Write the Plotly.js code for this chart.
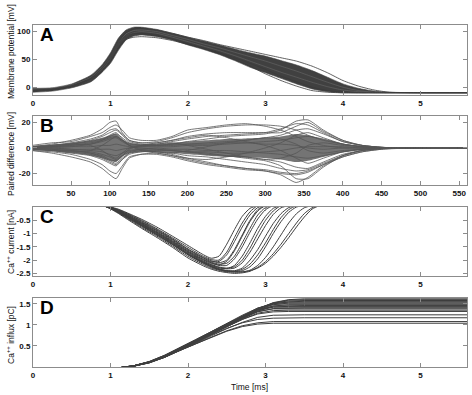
<!DOCTYPE html>
<html><head><meta charset="utf-8">
<script src="https://cdn.plot.ly/plotly-3.0.1.min.js"></script>
<style>html,body{margin:0;padding:0;background:#fff}#plot{width:472px;height:395px}</style>
</head><body><div id="plot"></div>
<script>
// ---------- Panel A: membrane potential (mV) vs time (ms) ----------
const tA = [0,0.25,0.5,0.75,0.9,1.0,1.1,1.2,1.3,1.4,1.6,1.8,2.0,2.2,2.4,2.6,2.8,3.0,3.2,3.4,3.6,3.8,4.0,4.2,4.4,4.6,5.0,5.6];
const aHi = [-2,-1,6,22,42,62,88,103,108,108,104,97,90,83,76,69,62,56,48,40,30,18,6,-2,-7,-9,-10,-10];
const aLo = [-9,-7,-1,10,28,43,66,85,92,94,91,85,76,68,59,48,36,26,16,6,-3,-8,-10,-10,-10,-10,-10,-10];
const aLines = [
  [-5,-3,3,17,36,55,80,98,105,106,103,97,90,84,77,71,65,59,53,47,38,26,12,2,-5,-9,-10,-10],
  [-6,-4,2,15,32,50,75,92,97,97,93,86,78,70,61,50,38,24,12,2,-6,-9,-10,-10,-10,-10,-10,-10],
  [-7,-5,1,14,30,47,70,86,90,91,89,84,77,70,62,53,43,32,20,10,0,-6,-9,-10,-10,-10,-10,-10]
];
const aInner = [
  [-4,-2,4,18,37,55,80,96,102,103,100,93,86,78,71,63,55,47,38,29,19,9,0,-6,-9,-10,-10,-10],
  [-6,-4,2,14,33,50,75,92,98,100,97,90,82,74,66,57,47,37,27,18,9,1,-5,-8,-10,-10,-10,-10]
];

// ---------- Panel B: paired difference (mV) vs sample index ----------
const sB = [0,25,50,75,90,100,108,116,125,140,160,180,200,225,250,275,300,320,340,355,375,400,425,450,475,500,560];
const bCoreHi = [1.5,2.5,4,6,8,10,11,7,4,3,3,4,5,6,7,7.5,8,9,11,10,7,3.5,1.5,0.6,0.2,0.1,0.1];
const bCoreLo = [-1.5,-2.5,-4,-6,-8,-10,-11,-7,-4,-3,-3,-4,-5,-6,-7,-7.5,-8,-9,-11,-10,-7,-3.5,-1.5,-0.6,-0.2,-0.1,-0.1];
const bLines = [
  [1,3,6,10,15,20,21,12,6,4,5,8,12,15,17,18,18,17,14,10,6,3,1,0.5,0,0,0],
  [-2,-4,-7,-11,-16,-21,-24,-16,-8,-5,-4,-6,-9,-12,-14,-16,-18,-21,-27,-23,-14,-7,-3,-1,-0.3,0,0],
  [2,4,5,9,12,16,18,14,8,6,6,9,14,16,18,19,17,14,9,5,2,0,0,0,0,0,0],
  [-1,-2,-4,-6,-9,-12,-14,-9,-4,-2,-3,-5,-8,-11,-14,-16,-17,-19,-20,-18,-13,-7,-3,-1,0,0,0],
  [0,1,3,6,9,12,14,10,5,3,2,3,5,7,9,10,11,14,21,22,14,6,2,0.5,0,0,0],
  [0,-1,-2,-4,-7,-10,-12,-8,-4,-3,-2,-2,-3,-5,-6,-8,-10,-14,-24,-24,-15,-6,-2,-0.5,0,0,0],
  [1,2,3,5,7,9,11,8,4,2,2,2,3,4,5,6,8,10,14,15,11,5,2,0.5,0,0,0],
  [-1,-1,-2,-3,-5,-7,-9,-6,-3,-1,-1,-2,-3,-4,-6,-7,-9,-11,-15,-16,-11,-5,-2,-0.5,0,0,0],
  [0,1,1,3,5,7,8,5,2,1,1,1,2,2,3,4,5,6,8,9,7,3,1,0.3,0,0,0],
  [0,0,-1,-2,-3,-5,-6,-4,-2,-1,0,-1,-1,-2,-2,-3,-4,-5,-7,-8,-6,-3,-1,-0.3,0,0,0],
  [1,2,4,7,10,14,15,11,6,4,4,6,9,11,12,12,12,12,17,20,13,6,2,0.5,0,0,0],
  [-2,-3,-5,-9,-13,-18,-20,-14,-7,-5,-5,-7,-10,-13,-15,-17,-18,-20,-21,-19,-13,-6,-2,-0.5,0,0,0],
  [0,1,2,4,6,8,9,6,3,2,3,5,7,9,10,11,12,15,19,18,12,5,2,0.5,0,0,0],
  [0,-1,-3,-5,-8,-11,-13,-9,-5,-3,-3,-4,-6,-7,-9,-11,-13,-16,-18,-17,-12,-6,-2,-0.5,0,0,0],
  [1,1,2,3,6,10,12,7,2,-1,-3,-4,-2,1,4,6,8,7,3,-2,-4,-2,-1,0,0,0,0],
  [-1,-2,-2,-4,-6,-9,-10,-6,-1,2,3,4,2,-1,-4,-7,-9,-8,-4,2,4,2,1,0,0,0,0],
  [0,2,3,2,-2,-6,-8,-4,0,2,4,6,8,10,8,5,2,-2,-8,-12,-8,-3,-1,0,0,0,0],
  [0,-2,-3,-2,2,6,9,6,2,-2,-4,-6,-8,-9,-7,-4,0,4,10,12,8,3,1,0,0,0,0],
  [0,0,1,1,2,2,3,2,1,0,-1,-2,-3,-3,-4,-4,-3,-2,0,1,1,1,0,0,0,0,0],
  [0,0,-1,-1,-1,-1,-2,-1,0,1,2,3,3,3,4,4,3,3,2,0,-1,0,0,0,0,0,0]
];

// ---------- Panel C: Ca++ current (nA) vs time (ms) ----------
const tC = [0,0.9,1.0,1.1,1.2,1.4,1.6,1.8,2.0,2.2,2.3,2.4,2.5,2.6,2.7,2.8,2.9,3.0,3.1,3.2,3.3,3.4,3.5,3.6,3.7,3.8,5.6];
const cLines = [
  [.05,.05,0,-.08,-.2,-.46,-.76,-1.1,-1.45,-1.8,-1.93,-1.85,-1.4,-.85,-.35,-.05,.05,.05,.05,.05,.05,.05,.05,.05,.05,.05,.05],
  [.05,.05,-.02,-.12,-.26,-.56,-.88,-1.22,-1.6,-1.92,-2.05,-2.05,-1.8,-1.3,-.75,-.3,-.02,.05,.05,.05,.05,.05,.05,.05,.05,.05,.05],
  [.05,.05,-.03,-.15,-.3,-.62,-.95,-1.3,-1.68,-2.0,-2.12,-2.18,-2.05,-1.65,-1.1,-.55,-.15,.05,.05,.05,.05,.05,.05,.05,.05,.05,.05],
  [.05,.05,-.02,-.14,-.28,-.6,-.93,-1.28,-1.66,-1.98,-2.1,-2.2,-2.2,-1.95,-1.5,-.95,-.45,-.1,.05,.05,.05,.05,.05,.05,.05,.05,.05],
  [.05,.05,-.04,-.18,-.34,-.68,-1.02,-1.38,-1.76,-2.08,-2.2,-2.3,-2.32,-2.2,-1.85,-1.35,-.8,-.35,-.05,.05,.05,.05,.05,.05,.05,.05,.05],
  [.05,.05,-.03,-.16,-.32,-.65,-.98,-1.34,-1.72,-2.05,-2.18,-2.28,-2.33,-2.3,-2.1,-1.7,-1.2,-.7,-.28,-.03,.05,.05,.05,.05,.05,.05,.05],
  [.05,.05,-.05,-.2,-.38,-.72,-1.06,-1.42,-1.8,-2.12,-2.25,-2.35,-2.4,-2.4,-2.3,-2.0,-1.6,-1.1,-.62,-.25,-.02,.05,.05,.05,.05,.05,.05],
  [.05,.05,-.04,-.17,-.33,-.66,-1.0,-1.36,-1.75,-2.08,-2.22,-2.33,-2.4,-2.43,-2.4,-2.25,-1.95,-1.5,-1.0,-.55,-.2,0,.05,.05,.05,.05,.05],
  [.05,.05,-.07,-.24,-.43,-.8,-1.15,-1.52,-1.92,-2.22,-2.34,-2.42,-2.47,-2.5,-2.48,-2.42,-2.27,-2.06,-1.76,-1.4,-1.0,-.6,-.25,-.03,.05,.05,.05],
  [.05,.05,-.05,-.2,-.36,-.7,-1.04,-1.4,-1.78,-2.1,-2.24,-2.34,-2.4,-2.43,-2.44,-2.4,-2.3,-2.12,-1.85,-1.52,-1.15,-.75,-.38,-.08,.05,.05,.05],
  [.05,.05,-.01,-.11,-.24,-.53,-.85,-1.2,-1.58,-1.9,-2.02,-2.1,-2.0,-1.6,-1.05,-.5,-.1,.05,.05,.05,.05,.05,.05,.05,.05,.05,.05],
  [.05,.05,-.03,-.16,-.31,-.63,-.97,-1.32,-1.7,-2.03,-2.16,-2.26,-2.3,-2.25,-2.0,-1.55,-1.0,-.5,-.15,.05,.05,.05,.05,.05,.05,.05,.05],
  [.05,.05,-.05,-.19,-.36,-.7,-1.05,-1.41,-1.8,-2.12,-2.26,-2.36,-2.42,-2.42,-2.35,-2.15,-1.8,-1.35,-.85,-.4,-.1,.05,.05,.05,.05,.05,.05],
  [.05,.05,-.02,-.13,-.27,-.58,-.9,-1.25,-1.63,-1.95,-2.08,-2.15,-2.12,-1.85,-1.35,-.8,-.3,-.02,.05,.05,.05,.05,.05,.05,.05,.05,.05],
  [.05,.05,-.06,-.22,-.4,-.76,-1.1,-1.47,-1.86,-2.17,-2.3,-2.38,-2.44,-2.46,-2.45,-2.38,-2.2,-1.9,-1.5,-1.05,-.6,-.25,-.03,.05,.05,.05,.05],
  [.05,.05,-.01,-.1,-.22,-.5,-.82,-1.16,-1.52,-1.86,-1.98,-2.0,-1.7,-1.15,-.6,-.18,.05,.05,.05,.05,.05,.05,.05,.05,.05,.05,.05]
];

// ---------- Panel D: Ca++ influx (pC) vs time (ms) ----------
const tD = [0,1.1,1.3,1.5,1.7,1.9,2.1,2.3,2.5,2.7,2.9,3.1,3.3,3.5,5.6];
const dLines = [
  [-0.02,-0.02,0.02,0.11,0.25,0.42,0.6,0.79,0.98,1.18,1.38,1.53,1.6,1.62,1.62],
  [-0.02,-0.02,0.02,0.1,0.24,0.41,0.59,0.78,0.97,1.17,1.37,1.52,1.59,1.6,1.6],
  [-0.02,-0.02,0.03,0.12,0.26,0.43,0.62,0.81,1.0,1.2,1.39,1.52,1.57,1.58,1.58],
  [-0.02,-0.02,0.02,0.1,0.23,0.4,0.58,0.77,0.96,1.16,1.35,1.5,1.55,1.56,1.56],
  [-0.02,-0.02,0.03,0.12,0.27,0.45,0.64,0.83,1.02,1.22,1.4,1.51,1.54,1.54,1.54],
  [-0.02,-0.02,0.02,0.11,0.24,0.41,0.6,0.79,0.98,1.18,1.36,1.48,1.52,1.52,1.52],
  [-0.02,-0.02,0.03,0.13,0.28,0.46,0.65,0.84,1.03,1.23,1.4,1.49,1.5,1.5,1.5],
  [-0.02,-0.02,0.02,0.1,0.23,0.4,0.58,0.77,0.96,1.15,1.33,1.45,1.48,1.48,1.48],
  [-0.02,-0.02,0.03,0.12,0.26,0.43,0.62,0.81,1.0,1.19,1.36,1.45,1.46,1.46,1.46],
  [-0.02,-0.02,0.02,0.11,0.25,0.42,0.61,0.8,0.99,1.17,1.33,1.43,1.44,1.44,1.44],
  [-0.02,-0.02,0.03,0.13,0.28,0.46,0.65,0.84,1.03,1.21,1.36,1.42,1.42,1.42,1.42],
  [-0.02,-0.02,0.02,0.11,0.24,0.41,0.6,0.79,0.97,1.15,1.31,1.39,1.4,1.4,1.4],
  [-0.02,-0.02,0.03,0.12,0.27,0.44,0.63,0.82,1.0,1.17,1.32,1.38,1.38,1.38,1.38],
  [-0.02,-0.02,0.02,0.11,0.25,0.42,0.6,0.78,0.96,1.13,1.28,1.34,1.35,1.35,1.35],
  [-0.02,-0.02,0.03,0.12,0.26,0.43,0.61,0.79,0.97,1.13,1.26,1.31,1.32,1.32,1.32],
  [-0.02,-0.02,0.02,0.1,0.23,0.39,0.56,0.74,0.91,1.06,1.18,1.23,1.24,1.24,1.24],
  [-0.02,-0.02,0.03,0.12,0.26,0.42,0.59,0.76,0.92,1.05,1.13,1.16,1.17,1.17,1.17],
  [-0.02,-0.02,0.02,0.11,0.24,0.39,0.55,0.71,0.86,0.98,1.05,1.08,1.08,1.08,1.08],
  [-0.02,-0.02,0.03,0.12,0.25,0.4,0.56,0.71,0.85,0.96,1.02,1.04,1.04,1.04,1.04]
];

// ---------- tick labels ----------
const timeTicks = [0,1,2,3,4,5];
const sampleTicks = [50,100,150,200,250,300,350,400,450,500,550];
const yTicksA = [0,50,100];
const yTicksB = [-20,0,20];
const yTicksC = [-0.5,-1,-1.5,-2,-2.5];
const yTextC = ['-0.5','-1','-1.5','-2','-2.5'];
const yTicksD = [0.5,1,1.5];
const yTextB = ['-20','0','20'];

// ---------- build traces ----------
const traces = [];
const LINE = '#3e3e3e';
function line(x, y, xa, ya, color, width, extra) {
  return Object.assign({type:'scatter', mode:'lines', x:x, y:y, xaxis:xa, yaxis:ya,
    line:{color:color, width:width, shape:'spline', smoothing:0.6}, hoverinfo:'skip', showlegend:false}, extra||{});
}
// A
traces.push(line(tA, aLo, 'x', 'y', '#454545', 0.6));
traces.push(line(tA, aHi, 'x', 'y', '#454545', 0.6, {fill:'tonexty', fillcolor:'#404040'}));
aInner.forEach(v => traces.push(line(tA, v, 'x', 'y', '#707070', 0.5)));
aLines.forEach(v => traces.push(line(tA, v, 'x', 'y', '#3a3a3a', 0.8)));
// B
traces.push(line(sB, bCoreLo, 'x2', 'y2', 'rgba(0,0,0,0)', 0));
traces.push(line(sB, bCoreHi, 'x2', 'y2', 'rgba(0,0,0,0)', 0, {fill:'tonexty', fillcolor:'rgba(70,70,70,0.75)'}));
bLines.forEach(v => traces.push(line(sB, v, 'x2', 'y2', '#555', 0.8)));
// C
cLines.forEach(v => traces.push(line(tC, v, 'x3', 'y3', LINE, 1)));
// D
dLines.forEach(v => traces.push(line(tD, v, 'x4', 'y4', LINE, 1, {line:{color:LINE, width:1, shape:'linear'}})));

// ---------- layout ----------
const tickFont = {family:'Liberation Sans, Arial, sans-serif', size:8, color:'#111', weight:'bold'};
const frame = {showline:true, linecolor:'#8c8c8c', linewidth:1, mirror:'ticks', ticks:'inside', ticklen:4,
  tickcolor:'#8c8c8c', showgrid:false, zeroline:false, tickfont:tickFont, fixedrange:true};
function ax(o){ return Object.assign({}, frame, o); }

const layout = {
  width:472, height:395,
  margin:{l:33, r:5, t:25, b:28, pad:0},
  paper_bgcolor:'#fff', plot_bgcolor:'#fff',
  showlegend:false,
  xaxis: ax({anchor:'y', range:[0,5.6], tickvals:timeTicks}),
  yaxis: ax({domain:[0.7953,1], range:[-14,112], tickvals:yTicksA}),
  xaxis2: ax({anchor:'y2', range:[1,560], tickvals:sampleTicks}),
  yaxis2: ax({domain:[0.532,0.7339], range:[-29,25], tickvals:yTicksB, ticktext:yTextB}),
  xaxis3: ax({anchor:'y3', range:[0,5.6], tickvals:timeTicks}),
  yaxis3: ax({domain:[0.266,0.4678], range:[-2.6,0], tickvals:yTicksC, ticktext:yTextC}),
  xaxis4: ax({anchor:'y4', range:[0,5.6], tickvals:timeTicks}),
  yaxis4: ax({domain:[0,0.2018], range:[0,1.64], tickvals:yTicksD}),
  annotations: []
};
const letterFont = {family:'Liberation Sans, Arial, sans-serif', size:19, color:'#000', weight:'bold'};
[['A','x','y'],['B','x2','y2'],['C','x3','y3'],['D','x4','y4']].forEach(([t,xa,ya]) => {
  layout.annotations.push({text:t, xref:xa+' domain', yref:ya+' domain', x:0.012, y:1.04,
    xanchor:'left', yanchor:'top', showarrow:false, font:letterFont});
});
const titleFont = {family:'Liberation Sans, Arial, sans-serif', size:8.5, color:'#111'};
[['Membrane potential [mV]',0.924],['Paired difference [mV]',0.623],
 ['Ca<sup>++</sup> current [nA]',0.3655],['Ca<sup>++</sup> influx [pC]',0.0936]].forEach(([t,y]) => {
  layout.annotations.push({text:t, xref:'paper', yref:'paper', x:-0.0507, y:y, textangle:-90,
    xanchor:'center', yanchor:'middle', showarrow:false, font:titleFont});
});
layout.annotations.push({text:'Time [ms]', xref:'paper', yref:'paper', x:0.4977, y:-0.0585,
  xanchor:'center', yanchor:'middle', showarrow:false, font:titleFont});

Plotly.newPlot('plot', traces, layout, {staticPlot:true, displayModeBar:false});
</script></body></html>
